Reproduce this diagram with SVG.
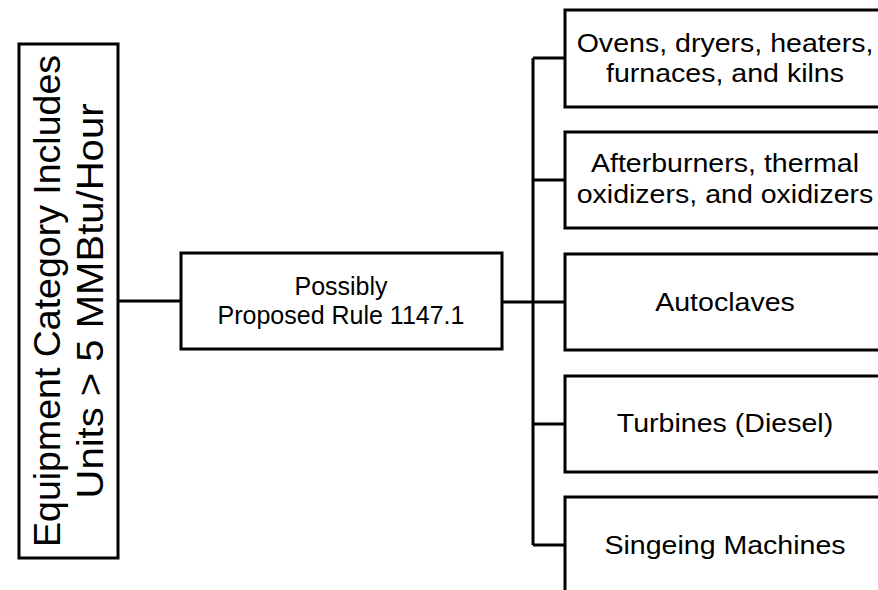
<svg xmlns="http://www.w3.org/2000/svg" width="878" height="590" viewBox="0 0 878 590">
  <style>
    .box { fill: #ffffff; stroke: #000000; stroke-width: 3; }
    .conn { fill: none; stroke: #000000; stroke-width: 3; }
    .gill { font-family: "Liberation Sans", Arial, sans-serif; fill: #000000; text-anchor: middle; }
    .lbl { font-family: "Liberation Sans", Arial, sans-serif; font-size: 25.5px; fill: #000000; text-anchor: middle; }
  </style>
  <rect x="0" y="0" width="878" height="590" fill="#ffffff"/>

  <g id="connectors">
    <line class="conn" x1="118" y1="301" x2="181" y2="301"/>
    <line class="conn" x1="502" y1="302" x2="565" y2="302"/>
    <line class="conn" x1="533" y1="58" x2="533" y2="545"/>
    <line class="conn" x1="533" y1="58" x2="565" y2="58"/>
    <line class="conn" x1="533" y1="180" x2="565" y2="180"/>
    <line class="conn" x1="533" y1="424" x2="565" y2="424"/>
    <line class="conn" x1="533" y1="545" x2="565" y2="545"/>
  </g>

  <g id="node-equipment">
    <rect class="box" x="19" y="44" width="99" height="514"/>
    <g transform="translate(60,301) rotate(-90)">
      <text class="gill" x="0" y="0" font-size="37.5" textLength="492" lengthAdjust="spacingAndGlyphs">Equipment Category Includes</text>
      <text class="gill" x="0" y="43" font-size="37.5" textLength="395" lengthAdjust="spacingAndGlyphs">Units &gt; 5 MMBtu/Hour</text>
    </g>
  </g>

  <g id="node-rule">
    <rect class="box" x="181" y="253" width="321" height="96"/>
    <text class="gill" x="341" y="295" font-size="25">Possibly</text>
    <text class="gill" x="341" y="324" font-size="25">Proposed Rule 1147.1</text>
  </g>

  <g id="node-ovens">
    <rect class="box" x="565" y="10" width="340" height="97"/>
    <text class="lbl" transform="matrix(1.12 0 0 1 725 0)" x="0" y="52">Ovens, dryers, heaters,</text>
    <text class="lbl" transform="matrix(1.12 0 0 1 725 0)" x="0" y="82">furnaces, and kilns</text>
  </g>

  <g id="node-afterburners">
    <rect class="box" x="565" y="132" width="340" height="96"/>
    <text class="lbl" transform="matrix(1.12 0 0 1 725 0)" x="0" y="172">Afterburners, thermal</text>
    <text class="lbl" transform="matrix(1.12 0 0 1 725 0)" x="0" y="203">oxidizers, and oxidizers</text>
  </g>

  <g id="node-autoclaves">
    <rect class="box" x="565" y="254" width="340" height="96"/>
    <text class="lbl" transform="matrix(1.12 0 0 1 725 0)" x="0" y="311">Autoclaves</text>
  </g>

  <g id="node-turbines">
    <rect class="box" x="565" y="376" width="340" height="96"/>
    <text class="lbl" transform="matrix(1.12 0 0 1 725 0)" x="0" y="432">Turbines (Diesel)</text>
  </g>

  <g id="node-singeing">
    <rect class="box" x="565" y="497" width="340" height="97"/>
    <text class="lbl" transform="matrix(1.12 0 0 1 725 0)" x="0" y="554">Singeing Machines</text>
  </g>
</svg>
